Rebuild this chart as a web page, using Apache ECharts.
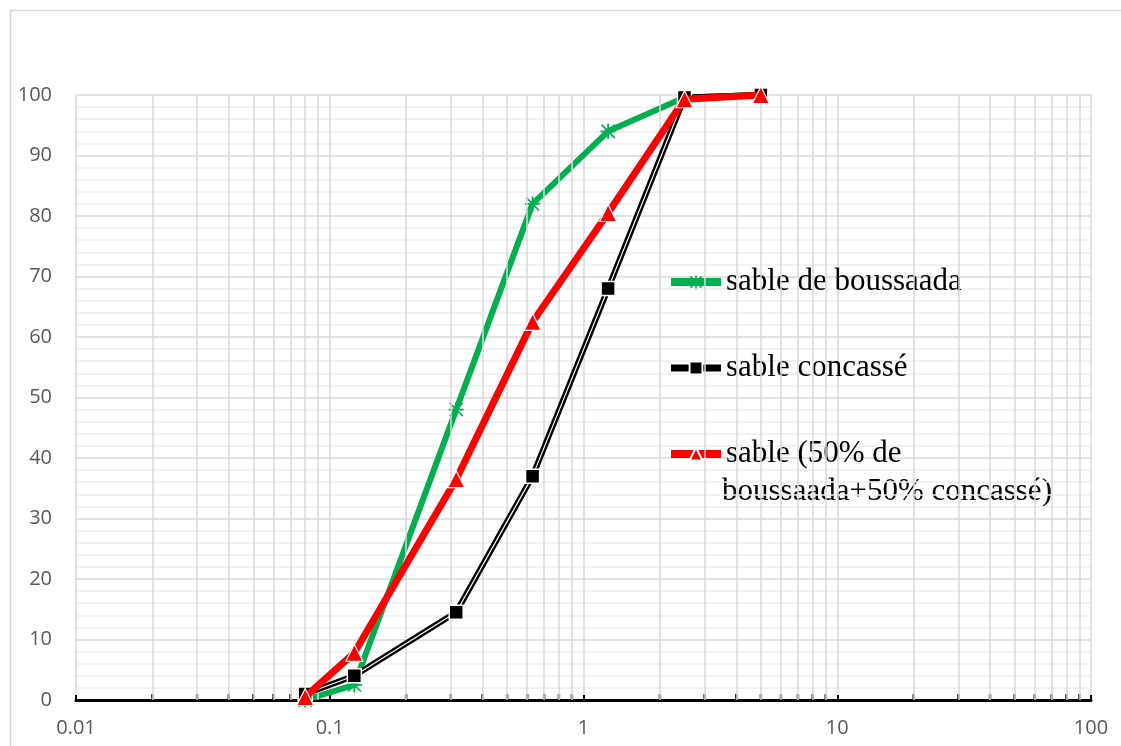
<!DOCTYPE html>
<html>
<head>
<meta charset="utf-8">
<script src="https://cdn.jsdelivr.net/npm/echarts@6/dist/echarts.min.js"></script>
<style>html,body{margin:0;padding:0;background:#fff}#c{width:1121px;height:746px}</style>
</head>
<body>
<div id="c"></div>
<script>
// Sieve openings (mm)
const sieves = [0.08, 0.125, 0.315, 0.63, 1.25, 2.5, 5];
// Percent passing
const sableBoussaada = [0, 2.5, 48, 82, 94, 99.6, 100];
const sableConcasse = [1, 4, 14.5, 37, 68, 99.6, 100];
const sableMelange = [0.5, 7.8, 36.5, 62.5, 80.5, 99.3, 100];
const seriesNames = ['sable de boussaada', 'sable concassé', 'sable (50% de boussaada+50% concassé)'];
const legendFirstLine = 'sable (50% de';
const legendSecondLine = 'boussaada+50% concassé)';
const xTickLabels = ['0.01', '0.1', '1', '10', '100'];
const yTickLabels = [0, 10, 20, 30, 40, 50, 60, 70, 80, 90, 100];

const decades = [0.01, 0.1, 1, 10];
const minorPositions = [];
decades.forEach(d => { for (let k = 2; k <= 9; k++) minorPositions.push(+(d * k).toPrecision(2)); });

const pair = arr => sieves.map((s, i) => [s, arr[i]]);
const starPath = 'path://M4.4,0L5.6,0L5.6,10L4.4,10Z M0.2,1L1,0.2L9.8,9L9,9.8Z M9,0.2L9.8,1L1,9.8L0.2,9Z M0,4.4L10,4.4L10,5.6L0,5.6Z';

const chart = echarts.init(document.getElementById('c'), null, {renderer: 'canvas'});
chart.setOption({
  backgroundColor: '#fff',
  animation: false,
  grid: {left: 76, right: 30, top: 95, bottom: 46, containLabel: false},
  xAxis: {
    type: 'log', logBase: 10, min: 0.01, max: 100,
    axisLine: {show: true, onZero: false, lineStyle: {color: '#000', width: 3}},
    axisTick: {show: true, inside: true, length: 5, lineStyle: {color: '#000', width: 2}},
    axisLabel: {margin: 18, color: '#595959', fontFamily: 'Open Sans', fontSize: 20,
      formatter: v => { const s = String(+(+v).toPrecision(3)); return xTickLabels.includes(s) ? s : ''; }},
    splitLine: {show: true, lineStyle: {color: '#d9d9d9', width: 1.5}},
    minorTick: {show: false}, minorSplitLine: {show: false}
  },
  yAxis: {
    type: 'value', min: 0, max: 100, interval: 10,
    axisLine: {show: false}, axisTick: {show: false},
    axisLabel: {margin: 24, color: '#595959', fontFamily: 'Open Sans', fontSize: 20,
      formatter: v => yTickLabels.includes(v) ? String(v) : ''},
    splitLine: {show: true, lineStyle: {color: '#d9d9d9', width: 1.5}},
    minorTick: {show: false, splitNumber: 5},
    minorSplitLine: {show: true, lineStyle: {color: '#eeeeee', width: 1.5}}
  },
  legend: {
    orient: 'vertical', left: 662, top: 258, itemWidth: 50, itemHeight: 16, itemGap: 48,
    data: [
      {name: seriesNames[0], lineStyle: {width: 8}},
      {name: seriesNames[1], lineStyle: {width: 7}},
      {name: seriesNames[2], lineStyle: {width: 8}}
    ],
    textStyle: {fontFamily: 'Liberation Serif', fontSize: 31, color: '#000', lineHeight: 38},
    formatter: n => n === seriesNames[2] ? legendFirstLine : n
  },
  graphic: [
    {type: 'rect', left: 8, top: 8, silent: true, shape: {width: 1200, height: 800},
      style: {fill: 'none', stroke: '#d9d9d9', lineWidth: 1.5}, z: -10},
    {type: 'text', left: 722, top: 476, silent: true,
      style: {text: legendSecondLine, fontFamily: 'Liberation Serif', fontSize: 31, fill: '#000'}}
  ],
  series: [
    {name: 'grid-minor', type: 'line', data: [], silent: true,
      markLine: {silent: true, symbol: ['none', 'none'], label: {show: false},
        lineStyle: {color: '#d9d9d9', width: 1.5, type: 'solid'},
        data: minorPositions.map(p => ({xAxis: p}))}, z: 0},
    {name: 'ticks-minor', type: 'scatter', silent: true,
      data: minorPositions.map(p => [p, 0]), symbol: 'rect', symbolSize: [2.5, 6], symbolOffset: [0, -3],
      itemStyle: {color: '#000'}, z: 3, clip: false},
    {name: seriesNames[0], type: 'line', data: pair(sableBoussaada),
      symbol: starPath, symbolSize: 15, showAllSymbol: true,
      lineStyle: {color: '#00b050', width: 6}, itemStyle: {color: '#00b050'}, z: 4},
    {name: seriesNames[1], type: 'line', data: pair(sableConcasse),
      symbol: 'rect', symbolSize: 14,
      lineStyle: {color: '#000', width: 6}, itemStyle: {color: '#000', borderColor: '#fff', borderWidth: 1.5}, z: 5},
    {name: 'concasse-inner', type: 'line', data: pair(sableConcasse), silent: true,
      showSymbol: false, symbol: 'none',
      lineStyle: {color: '#fff', width: 1.2}, z: 5},
    {name: seriesNames[2], type: 'line', data: pair(sableMelange),
      symbol: 'triangle', symbolSize: 17,
      lineStyle: {color: '#ff0000', width: 7}, itemStyle: {color: '#ff0000', borderColor: '#fff', borderWidth: 1.2}, z: 6}
  ]
});
</script>
</body>
</html>
